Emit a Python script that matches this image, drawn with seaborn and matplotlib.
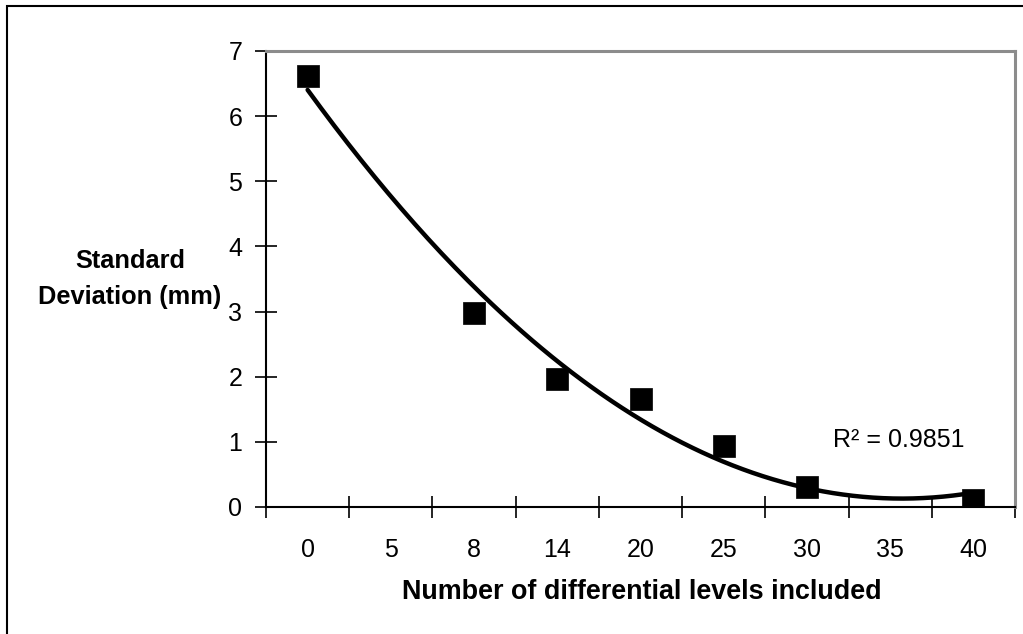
import numpy as np
import pandas as pd
import matplotlib
matplotlib.use("Agg")
import matplotlib.pyplot as plt
import seaborn as sns
from matplotlib.patches import Rectangle

# Data
categories = ["0", "5", "8", "14", "20", "25", "30", "35", "40"]
point_categories = ["0", "8", "14", "20", "25", "30", "40"]
std_dev = [6.62, 2.98, 1.97, 1.66, 0.93, 0.31, 0.10]
r2_label = "R\u00b2 = 0.9851"
xlabel = "Number of differential levels included"
ylabel = "Standard\nDeviation (mm)"

sns.set_theme(style="white")
plt.rcParams['font.family'] = ['Liberation Sans', 'DejaVu Sans']
plt.rcParams['text.color'] = 'black'
plt.rcParams['xtick.color'] = 'black'
plt.rcParams['ytick.color'] = 'black'
plt.rcParams['axes.labelcolor'] = 'black'

W, H = 1023, 634
fig = plt.figure(figsize=(W / 100, H / 100), dpi=100)
ax = fig.add_axes([266 / W, 1 - 507 / H, (1015 - 266) / W, (507 - 51) / H])

idx = [categories.index(c) for c in point_categories]
df = pd.DataFrame({"x": idx, "y": std_dev})

# polynomial (order 2) trendline over category positions
coef = np.polyfit(df["x"], df["y"], 2)
xs = np.linspace(0, len(categories) - 1, 200)
trend = pd.DataFrame({"x": xs, "y": np.polyval(coef, xs)})

sns.lineplot(data=trend, x="x", y="y", ax=ax, color="black", linewidth=3.2,
             zorder=2, estimator=None, sort=False)
sns.scatterplot(data=df, x="x", y="y", ax=ax, marker="s", s=270, color="black",
                edgecolor="black", linewidth=0.5, zorder=3)

ax.set_xlim(-0.5, len(categories) - 0.5)
ax.set_ylim(0, 7)

TICK_FS = 18

# ticks at category boundaries, labels at centres
ax.set_xticks(np.arange(-0.5, len(categories), 1.0))
ax.set_xticklabels([])
ax.set_xticks(np.arange(len(categories)), minor=True)
ax.set_xticklabels(categories, minor=True, fontsize=TICK_FS)
ax.tick_params(axis="x", which="major", direction="inout", length=16, width=1.2,
               color="black", bottom=True)
ax.tick_params(axis="x", which="minor", length=0, pad=22, bottom=True)

ax.set_yticks(range(0, 8))
ax.set_yticklabels([str(v) for v in range(0, 8)], fontsize=TICK_FS)
ax.tick_params(axis="y", which="major", direction="inout", length=16, width=1.2,
               color="black", left=True, pad=9)

for s in ["left", "bottom"]:
    ax.spines[s].set_color("black")
    ax.spines[s].set_linewidth(1.5)
for s in ["top", "right"]:
    ax.spines[s].set_color("#8c8c8c")
    ax.spines[s].set_linewidth(2.2)

ax.set_xlabel("")
ax.set_ylabel("")
ax.grid(False)

ax.text(6.31, 1.03, r2_label, fontsize=TICK_FS, va="center", ha="left",
        color="black")

fig.text(642 / W, 1 - 592 / H, xlabel, fontsize=19.4, fontweight="bold",
         ha="center", va="center", color="black")
fig.text(130 / W, 1 - 279 / H, ylabel, fontsize=18.3, fontweight="bold",
         ha="center", va="center", linespacing=1.6, color="black")

# outer chart border
fig.patches.append(Rectangle((7 / W, -0.1), 1.2, 1 - 6 / H + 0.1,
                             transform=fig.transFigure, fill=False,
                             edgecolor="black", linewidth=1.5))

fig.savefig("out.png", dpi=100)
